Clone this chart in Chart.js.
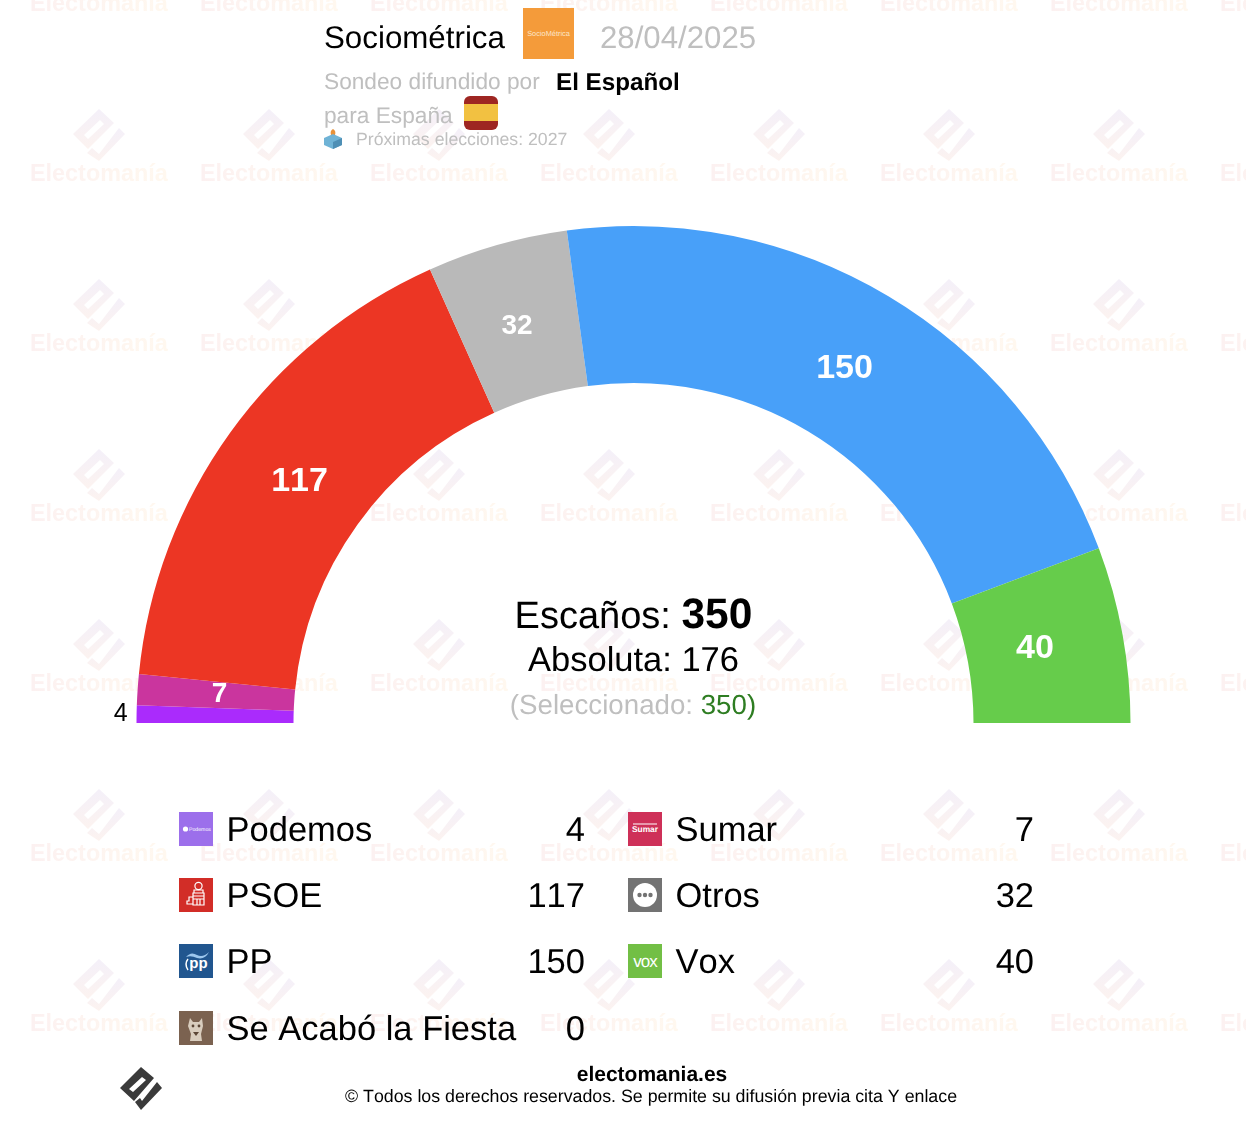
<!DOCTYPE html>
<html lang="es">
<head>
<meta charset="utf-8">
<title>Sociométrica 28/04/2025</title>
<script src="https://cdn.jsdelivr.net/npm/chart.js@4/dist/chart.umd.min.js"></script>
<style>
  html, body { margin: 0; padding: 0; background: #fff; }
  body { width: 1246px; height: 1126px; overflow: hidden; position: relative; font-family: "Liberation Sans", Arial, sans-serif; font-kerning: none; text-rendering: geometricPrecision; }
  #wm, #seats, #page { position: absolute; left: 0; top: 0; width: 1246px; height: 1126px; }
  .t { position: absolute; line-height: 1; white-space: nowrap; color: #000; }
  .t b { line-height: 0; }
  .ico { position: absolute; }
  .ico svg { display: block; }
  .grey { color: #bfbfbf; }
</style>
</head>
<body>
<div id="wm"></div>
<canvas id="seats" width="1246" height="1126"></canvas>
<div id="page"></div>

<script>
// seats per party, in the order they sit round the arc
const parties = ['Podemos', 'Sumar', 'PSOE', 'Otros', 'PP', 'Vox', 'Se Acabó la Fiesta'];
const seats = [4, 7, 117, 32, 150, 40, 0];
const colors = ['#AA2BFC', '#CA359E', '#EC3624', '#B9B9B9', '#48A0F9', '#66CC4B', '#7B6250'];
const totalSeats = 350;
const majority = 176;
const selected = 350;

// legend is filled row by row, left column then right column
const legendOrder = [0, 1, 2, 3, 4, 5, 6];

const iconSvg = {
  Podemos: '<rect width="34" height="34" fill="#9C6FEB"/><circle cx="6.5" cy="17" r="2.6" fill="#fff"/><text x="10" y="19" font-size="5.2" fill="#fff" font-family="Liberation Sans">Podemos</text>',
  Sumar: '<rect width="34" height="34" fill="#CE3058"/><rect x="5" y="11.5" width="24" height="1" fill="#fff"/><text x="17" y="20" font-size="8.4" font-weight="bold" text-anchor="middle" fill="#fff" font-family="Liberation Sans">Sumar</text>',
  PSOE: '<rect width="34" height="34" fill="#D22D27"/><g fill="none" stroke="#fff" stroke-width="1.2"><circle cx="19.5" cy="8" r="3.6"/><path d="M15 12h9v3h-9zM14 15h11v3H14zM14 18h11v3H14zM14 21h11v6H14zM14 19H10v4H8v3h6M18 21v6M21 21v6"/></g>',
  Otros: '<rect width="34" height="34" fill="#737373"/><circle cx="17" cy="17" r="12" fill="#fff"/><circle cx="11.5" cy="17" r="2.2" fill="#737373"/><circle cx="17" cy="17" r="2.2" fill="#737373"/><circle cx="22.5" cy="17" r="2.2" fill="#737373"/>',
  PP: '<rect width="34" height="34" fill="#21568F"/><path d="M7 13Q12 7 18 11Q24 14 30 8Q26 16 18 14Q12 11 7 13Z" fill="#9CC7EE"/><path d="M9 15Q5 20 9 26" fill="none" stroke="#fff" stroke-width="1.5"/><text x="19.5" y="24" font-size="15" text-anchor="middle" fill="#fff" font-family="Liberation Sans" font-weight="bold">pp</text>',
  Vox: '<rect width="34" height="34" fill="#72BF45"/><text x="17" y="22.5" font-size="17" text-anchor="middle" fill="#fff" font-family="Liberation Sans" letter-spacing="-1">vox</text>',
  'Se Acabó la Fiesta': '<rect width="34" height="34" fill="#7B6250"/><path d="M11 7l3 4h6l3-4 1 8-2 8 1 7H11l1-7-3-8z" fill="#D9CDBE"/><circle cx="14" cy="15" r="1.4" fill="#5b4636"/><circle cx="20" cy="15" r="1.4" fill="#5b4636"/><path d="M14 21h6l-3 4z" fill="#5b4636"/>'
};

function put(html, x, baseline, size, extra) {
  const el = document.createElement('div');
  el.className = 't';
  el.innerHTML = html;
  el.style.fontSize = size + 'px';
  el.style.top = (baseline - size * 0.8465) + 'px';
  const opts = extra || {};
  if (opts.align === 'right') { el.style.right = (1246 - x) + 'px'; }
  else if (opts.align === 'center') { el.style.left = x + 'px'; el.style.transform = 'translateX(-50%)'; }
  else { el.style.left = x + 'px'; }
  if (opts.cls) el.className += ' ' + opts.cls;
  if (opts.bold) el.style.fontWeight = 'bold';
  document.getElementById('page').appendChild(el);
  return el;
}

function putIcon(svg, x, y, w, h) {
  const el = document.createElement('div');
  el.className = 'ico';
  el.style.left = x + 'px';
  el.style.top = y + 'px';
  el.innerHTML = '<svg xmlns="http://www.w3.org/2000/svg" width="' + w + '" height="' + h + '" viewBox="0 0 ' + w + ' ' + h + '">' + svg + '</svg>';
  document.getElementById('page').appendChild(el);
}

// faint repeating Electomanía watermark behind everything
function drawWatermark() {
  const tile = '<svg xmlns="http://www.w3.org/2000/svg" width="170" height="170">' +
    '<defs>' +
    '<linearGradient id="a" x1="0" x2="1" y1="0" y2="0"><stop offset="0" stop-color="#fcf1f1"/><stop offset="1" stop-color="#fff8ef"/></linearGradient>' +
    '<linearGradient id="b" x1="0" x2="0" y1="0" y2="1"><stop offset="0" stop-color="#f4f0f9"/><stop offset="1" stop-color="#fcf3f0"/></linearGradient>' +
    '</defs>' +
    '<path fill="url(#b)" fill-rule="evenodd" d="M99 9L114 23L88 49L73 34ZM100 20L84 35L88 39L104 24Z"/>' +
    '<path fill="url(#b)" d="M119 28L125 34L99 61L87 53L92 48L99 54Z"/>' +
    '<text x="30" y="81" font-family="Liberation Sans" font-weight="bold" font-size="23.4" fill="url(#a)">Electomanía</text>' +
    '</svg>';
  const wm = document.getElementById('wm');
  wm.style.backgroundImage = 'url("data:image/svg+xml,' + encodeURIComponent(tile) + '")';
  wm.style.backgroundPosition = '0 100px';
}

function drawHeader() {
  put('Sociométrica', 324, 48.5, 31.3);
  putIcon('<rect width="51" height="51" fill="#F49B3A"/><text x="25.5" y="28" font-size="7.4" text-anchor="middle" fill="#fde6c8" font-family="Liberation Sans">SocioMétrica</text>', 523, 8, 51, 51);
  put('28/04/2025', 600, 48.5, 31.2, { cls: 'grey' });
  put('Sondeo difundido por', 324, 89, 22.7, { cls: 'grey' });
  put('El Español', 556, 91, 24.2, { bold: true });
  put('para España', 324, 123.5, 22.7, { cls: 'grey' });
  putIcon('<rect width="34" height="34" rx="6" fill="#9E2622"/><rect y="8" width="34" height="17" fill="#F2C141"/>', 464, 96, 34, 34);
  putIcon('<path d="M9 0c2 1 3 3 2 6H7C6 3 7 1 9 0z" fill="#E8923A"/><path d="M9 5l9 4v7l-9 4-9-4V9z" fill="#6FB3D6"/><path d="M9 13l9-4v7l-9 4z" fill="#4E8FB5"/>', 324, 129, 18, 20);
  put('Próximas elecciones: 2027', 356, 146, 17.7, { cls: 'grey' });
}

function drawCentre() {
  put('Escaños: <b style="font-size:42.5px">' + totalSeats + '</b>', 633.5, 629, 38, { align: 'center' });
  put('Absoluta: ' + majority, 633.5, 672, 34.5, { align: 'center' });
  put('(Seleccionado: <span style="color:#2E7D22">' + selected + ')</span>', 633, 714, 27.7, { align: 'center', cls: 'grey' });
}

function drawLegend() {
  const rowIcon = [812, 878, 944, 1011];
  const rowBase = [842.5, 908, 974, 1041];
  legendOrder.forEach((p, i) => {
    const col = i % 2;
    const row = Math.floor(i / 2);
    const iconX = col ? 628 : 179;
    putIcon(iconSvg[parties[p]], iconX, rowIcon[row], 34, 34);
    put(parties[p], iconX + 47.5, rowBase[row], 34.5);
    put(String(seats[p]), col ? 1034 : 585, rowBase[row], 34.5, { align: 'right' });
  });
}

function drawFooter() {
  put('electomania.es', 652, 1082, 21, { align: 'center', bold: true });
  put('© Todos los derechos reservados. Se permite su difusión previa cita Y enlace', 651, 1103, 17.8, { align: 'center' });
  putIcon('<path fill="#3a3a3a" fill-rule="evenodd" d="M21 0L34 11L14 34L0 21ZM22 10L9 22L13 25L26 13Z"/><path fill="#3a3a3a" d="M37 15L42 21L21 43L15 35L20 31L22 34Z"/>', 120, 1067, 43, 43);
}

// numbers on the slices; small slices get their number outside the arc
const sliceLabels = {
  id: 'sliceLabels',
  afterDatasetsDraw(chart) {
    const ctx = chart.ctx;
    const arcs = chart.getDatasetMeta(0).data;
    ctx.save();
    ctx.textAlign = 'center';
    ctx.textBaseline = 'middle';
    ctx.fontKerning = 'none';
    arcs.forEach((arc, i) => {
      const v = seats[i];
      if (!v) return;
      const mid = (arc.startAngle + arc.endAngle) / 2;
      let r = (arc.innerRadius + arc.outerRadius) / 2 - 7;
      let dx = 0;
      let dy = -1;
      if (v < 5) {
        r = arc.outerRadius + 16;
        dy = 0;
        ctx.fillStyle = '#000';
        ctx.font = '25px "Liberation Sans"';
      } else {
        ctx.fillStyle = '#fff';
        ctx.font = 'bold ' + (v >= 40 ? 34 : 28) + 'px "Liberation Sans"';
        if (v < 100) dx = -3.5; // shorter numbers sit a little left of the middle
      }
      ctx.fillText(String(v), arc.x + Math.cos(mid) * r + dx, arc.y + Math.sin(mid) * r + dy);
    });
    ctx.restore();
  }
};

drawWatermark();
drawHeader();
drawCentre();
drawLegend();
drawFooter();

new Chart(document.getElementById('seats').getContext('2d'), {
  type: 'doughnut',
  data: {
    labels: parties,
    datasets: [{ data: seats, backgroundColor: colors, borderWidth: 0 }]
  },
  options: {
    responsive: false,
    animation: false,
    rotation: -90,
    circumference: 180,
    cutout: '68.41%',
    radius: 497,
    layout: { padding: { left: 136.5, right: 115.5, top: 226, bottom: 403 } },
    plugins: { legend: { display: false }, tooltip: { enabled: false } }
  },
  plugins: [sliceLabels]
});
</script>
</body>
</html>
